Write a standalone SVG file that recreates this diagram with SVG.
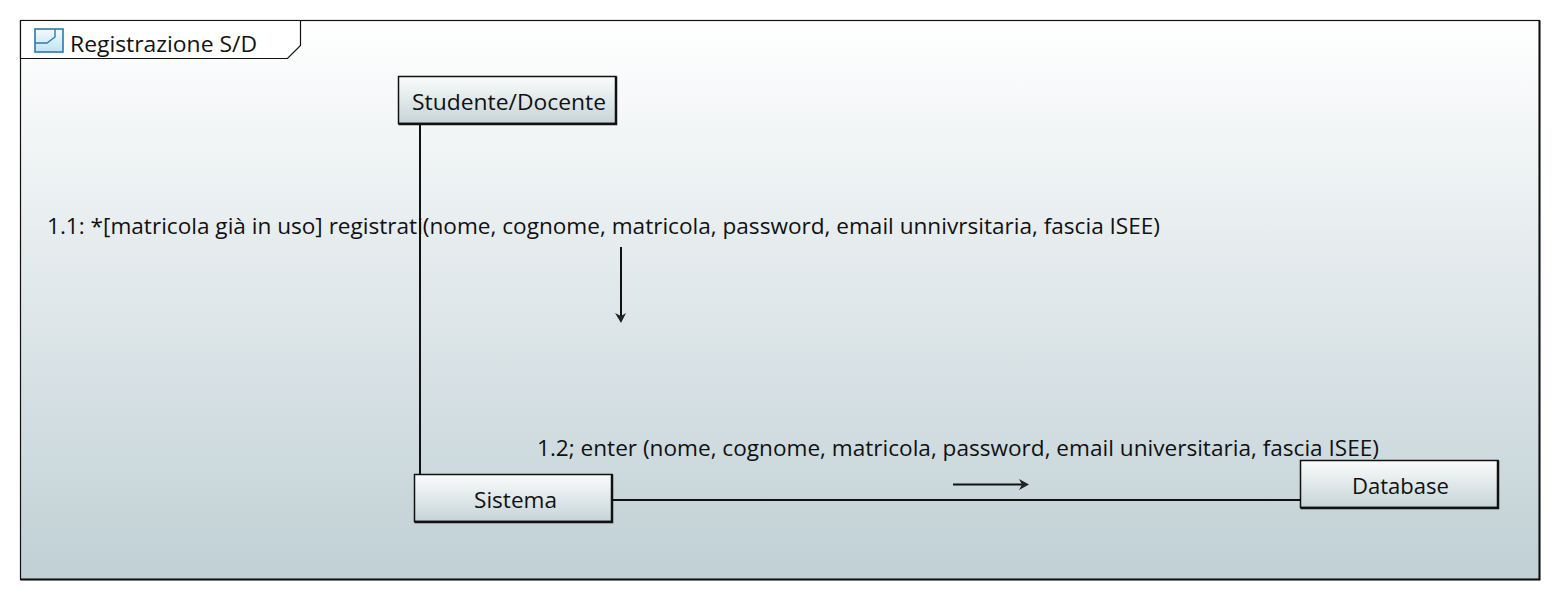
<svg xmlns="http://www.w3.org/2000/svg" width="1562" height="602" viewBox="0 0 1562 602">
<style>
text{font-family:"Open Sans","Noto Sans","Liberation Sans",sans-serif;font-size:21.5px;fill:#111}
.box{fill:url(#boxG);stroke:#111;stroke-width:1.5}
.shadow{fill:none;stroke:#111;stroke-width:2.5}
.conn{fill:none;stroke:#111;stroke-width:2}
.msg{fill:none;stroke:#111;stroke-width:2}
</style>
<defs>
<linearGradient id="bg" x1="0" y1="0" x2="0" y2="1"><stop offset="0" stop-color="#ffffff"/><stop offset="1" stop-color="#c0d0d5"/></linearGradient>
<linearGradient id="boxG" x1="0" y1="0" x2="0" y2="1"><stop offset="0" stop-color="#fbfcfc"/><stop offset="1" stop-color="#c6d4d7"/></linearGradient>
<linearGradient id="iconG" x1="0" y1="0" x2="0" y2="1"><stop offset="0" stop-color="#f4fafd"/><stop offset="1" stop-color="#bfe3f4"/></linearGradient>
</defs>
<rect width="1562" height="602" fill="#fff"/>
<g id="frame">
<rect x="20.5" y="20.5" width="1519" height="559" fill="url(#bg)" stroke="#111" stroke-width="1.2"/>
<path d="M20.5 579.5H1539.5V20.5" fill="none" stroke="#111" stroke-width="2"/>
<path d="M20.5 20.5H300.5V45.5L287.5 58.500H20.5Z" fill="#fff" stroke="#111" stroke-width="1.2"/>
<rect x="35" y="29" width="28" height="23" fill="url(#iconG)" stroke="#2f7aa8" stroke-width="1.6"/>
<path d="M35 43H47L55 37V29" fill="none" stroke="#2f7aa8" stroke-width="1.4"/>
<text id="frame-title" x="70" y="52" textLength="187" lengthAdjust="spacingAndGlyphs">Registrazione S/D</text>
</g>
<g id="connectors">
<path class="conn" d="M420 124V474"/>
<path class="conn" d="M612 500H1300"/>
<path class="msg" d="M621 247V320"/>
<path d="M615 313L621 323L626 313L621 316Z" fill="#222"/>
<path class="msg" d="M953 484.500H1026"/>
<path d="M1019 479L1029 484.500L1019 490L1022 484.500Z" fill="#222"/>
<text id="label-1-1" x="47" y="234" textLength="1113" lengthAdjust="spacingAndGlyphs">1.1: *[matricola già in uso] registrati(nome, cognome, matricola, password, email unnivrsitaria, fascia ISEE)</text>
<text id="label-1-2" x="537" y="456" textLength="842" lengthAdjust="spacingAndGlyphs">1.2; enter (nome, cognome, matricola, password, email universitaria, fascia ISEE)</text>
</g>
<g id="node-studente">
<rect class="box" x="398.500" y="76.500" width="217.500" height="47"/>
<path class="shadow" d="M398.500 124H616V76.500"/>
<text x="412" y="109.500" textLength="194" lengthAdjust="spacingAndGlyphs">Studente/Docente</text>
</g>
<g id="node-sistema">
<rect class="box" x="414.500" y="474.500" width="197.500" height="47"/>
<path class="shadow" d="M414.500 522H612V474.500"/>
<text x="474" y="508" textLength="83" lengthAdjust="spacingAndGlyphs">Sistema</text>
</g>
<g id="node-database">
<rect class="box" x="1300.500" y="460.500" width="197.500" height="47"/>
<path class="shadow" d="M1300.500 508H1498V460.500"/>
<text x="1352" y="493.500" textLength="97" lengthAdjust="spacingAndGlyphs">Database</text>
</g>
</svg>
